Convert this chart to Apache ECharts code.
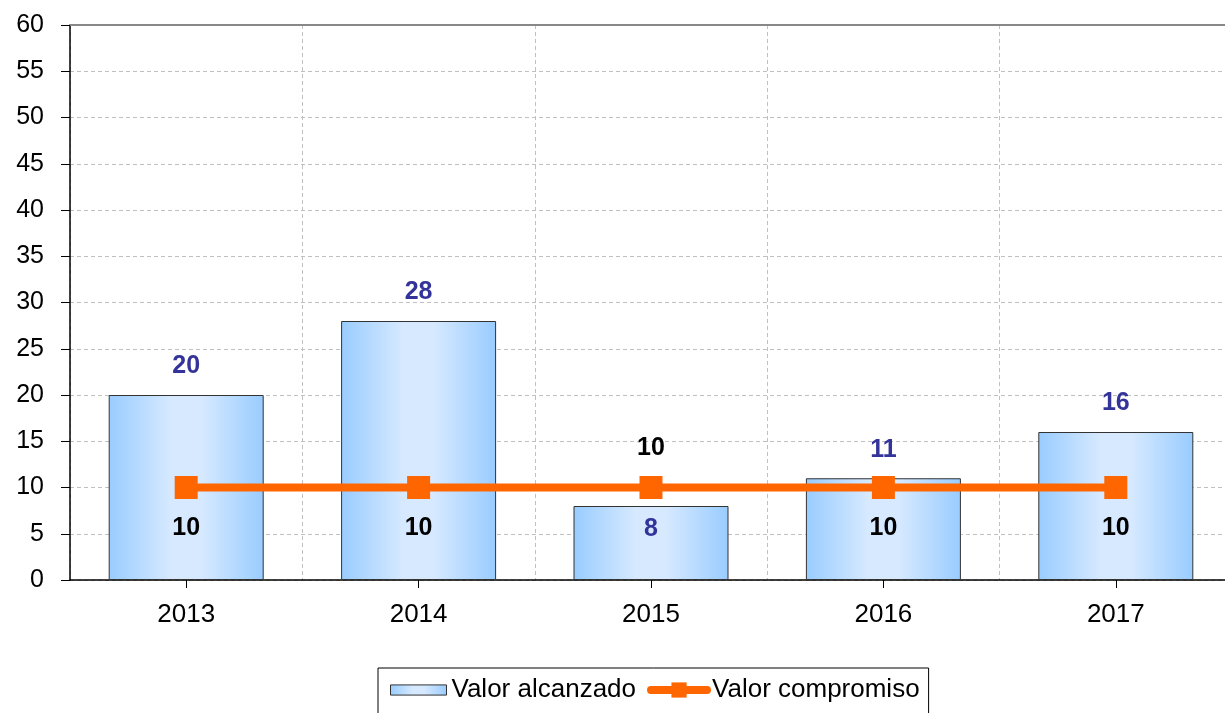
<!DOCTYPE html>
<html><head><meta charset="utf-8">
<script src="https://cdn.jsdelivr.net/npm/echarts@6/dist/echarts.min.js"></script>
<style>html,body{margin:0;padding:0;background:#fff;overflow:hidden}#c{width:1232px;height:713px}</style>
</head><body><div id="c"></div>
<script>
const categories = ['2013','2014','2015','2016','2017'];
const valorAlcanzado = [20, 28, 8, 11, 16];
const valorCompromiso = [10, 10, 10, 10, 10];
const FONT = '"Liberation Sans", Arial, sans-serif';

const barGrad = new echarts.graphic.LinearGradient(0,0,1,0,[
  {offset:0,color:'#99ccff'},{offset:0.4,color:'#d6e9ff'},{offset:0.6,color:'#d6e9ff'},{offset:1,color:'#99ccff'}
]);

const barData = valorAlcanzado.map((v,i)=>{
  const d = {value:v};
  if (v < valorCompromiso[i]) d.label = {position:'insideTop', distance:11};
  return d;
});
const lineData = valorCompromiso.map((v,i)=>{
  const d = {value:v};
  if (valorAlcanzado[i] < v) d.label = {position:'top', distance:15};
  return d;
});

const chart = echarts.init(document.getElementById('c'));
chart.setOption({
  animation:false,
  textStyle:{fontFamily:FONT},
  grid:{left:70, top:25, width:1162, height:555, containLabel:false},
  legend:{
    left:378, top:668, width:550,
    padding:[9,9,20,12], itemGap:11,
    borderColor:'#000', borderWidth:1,
    symbolKeepAspect:true,
    textStyle:{fontSize:26, color:'#000', fontFamily:FONT},
    data:[
      {name:'Valor alcanzado', icon:'path://M0,0H55V10H0Z', itemStyle:{color:barGrad, borderColor:'#333', borderWidth:1}},
      {name:'Valor compromiso', lineStyle:{width:8, cap:'round', color:'#ff6600'}}
    ],
    itemWidth:56, itemHeight:19
  },
  xAxis:{
    type:'category', data:categories, boundaryGap:true,
    axisLine:{lineStyle:{color:'#000', width:1.5}},
    axisTick:{show:true, alignWithLabel:true, length:8, lineStyle:{color:'#000'}},
    axisLabel:{fontSize:26, color:'#000', margin:22, fontFamily:FONT},
    splitLine:{show:true, lineStyle:{color:'#c0c0c0', type:[4,3], width:1}}
  },
  yAxis:{
    type:'value', min:0, max:60, interval:5,
    axisLine:{show:true, lineStyle:{color:'#000', width:1.5}},
    axisTick:{show:true, length:9, lineStyle:{color:'#000'}},
    axisLabel:{fontSize:25, color:'#000', margin:26, fontFamily:FONT},
    splitLine:{show:true, lineStyle:{color:'#c0c0c0', type:[4,3], width:1}}
  },
  series:[
    {
      name:'Valor alcanzado', type:'bar', data:barData, barWidth:155,
      itemStyle:{color:barGrad, borderColor:'#333', borderWidth:1},
      label:{show:true, position:'top', distance:16, color:'#333399', fontWeight:'bold', fontSize:25, fontFamily:FONT},
      z:2
    },
    {
      name:'Valor compromiso', type:'line', data:lineData,
      lineStyle:{color:'#ff6600', width:8, cap:'round'},
      itemStyle:{color:'#ff6600'},
      symbol:'rect', symbolSize:23,
      label:{show:true, position:'bottom', distance:17, color:'#000', fontWeight:'bold', fontSize:25, fontFamily:FONT},
      z:3
    }
  ],
  graphic:[
    {type:'line', shape:{x1:70, y1:25, x2:1232, y2:25}, style:{stroke:'#888', lineWidth:2}, z:10}
  ]
});
</script></body></html>
